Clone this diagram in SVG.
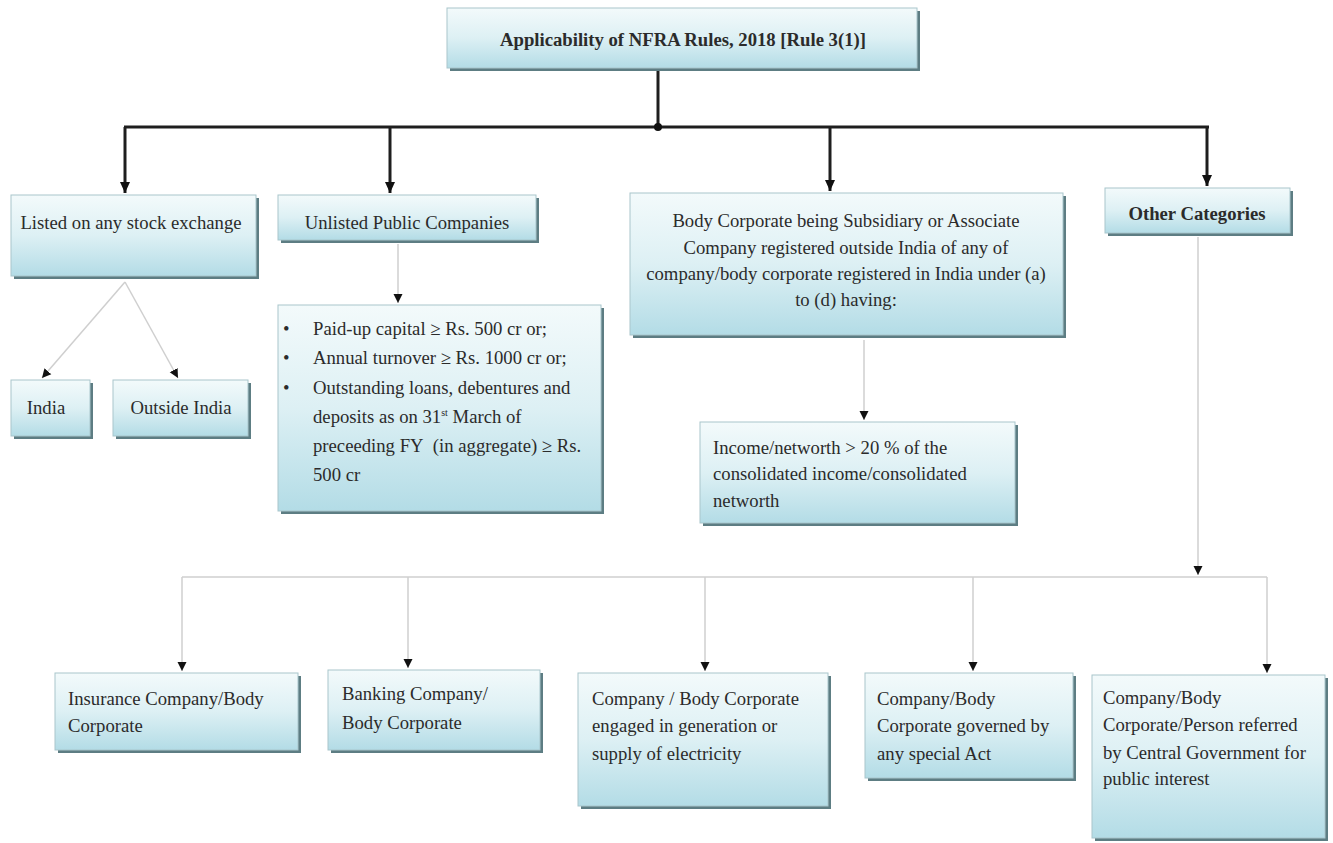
<svg xmlns="http://www.w3.org/2000/svg" width="1333" height="843" viewBox="0 0 1333 843">
<style>
.box{fill:url(#g);stroke:#a9c6cc;stroke-width:1}
.sh{fill:#5d7d83}
.t{font-family:"Liberation Serif","Times New Roman",serif;font-size:18.7px;fill:#2b2b2b}
.b{font-weight:bold}
.m{text-anchor:middle}
.thick{stroke:#1e1e1e;stroke-width:3;fill:none}
.thin{stroke:#cfcfcf;stroke-width:1.5;fill:none}
</style>
<defs>
<linearGradient id="g" x1="0" y1="0" x2="0" y2="1">
<stop offset="0" stop-color="#f3fafb"/>
<stop offset="0.5" stop-color="#ddf0f4"/>
<stop offset="1" stop-color="#b3dce6"/>
</linearGradient>
<marker id="as" markerUnits="userSpaceOnUse" markerWidth="10" markerHeight="10" refX="9" refY="5" orient="auto" viewBox="0 0 10 10">
<path d="M0,0.5 L9,5 L0,9.5 Z" fill="#111"/>
</marker>
<marker id="at" markerUnits="userSpaceOnUse" markerWidth="12" markerHeight="12" refX="11" refY="6" orient="auto" viewBox="0 0 12 12">
<path d="M0,1 L11,6 L0,11 Z" fill="#111"/>
</marker>
</defs>
<rect width="1333" height="843" fill="#ffffff"/>

<g id="connectors">
<path class="thick" d="M658,71 V127"/>
<path class="thick" d="M124,127 H1209"/>
<circle cx="658" cy="127" r="4" fill="#111"/>
<path class="thick" d="M125,127 V193" marker-end="url(#at)"/>
<path class="thick" d="M390,127 V193" marker-end="url(#at)"/>
<path class="thick" d="M830,127 V191" marker-end="url(#at)"/>
<path class="thick" d="M1207,127 V186" marker-end="url(#at)"/>
<path class="thin" d="M125,282 L42,378" marker-end="url(#as)"/>
<path class="thin" d="M125,282 L178,378" marker-end="url(#as)"/>
<path class="thin" d="M398,244 V303" marker-end="url(#as)"/>
<path class="thin" d="M864,340 V420" marker-end="url(#as)"/>
<path class="thin" d="M1198,237 V575" marker-end="url(#as)"/>
<path class="thin" d="M182,577 H1267"/>
<path class="thin" d="M182,577 V671" marker-end="url(#as)"/>
<path class="thin" d="M408,577 V668" marker-end="url(#as)"/>
<path class="thin" d="M705,577 V671" marker-end="url(#as)"/>
<path class="thin" d="M973,577 V671" marker-end="url(#as)"/>
<path class="thin" d="M1267,577 V673" marker-end="url(#as)"/>
</g>

<g id="root">
<rect class="sh" x="450" y="11" width="470" height="60"/>
<rect class="box" x="447" y="8" width="470" height="60"/>
<text class="t b m" x="683" y="46">Applicability of NFRA Rules, 2018 [Rule 3(1)]</text>
</g>

<g id="listed">
<rect class="sh" x="14" y="198" width="245" height="81"/>
<rect class="box" x="11" y="195" width="245" height="81"/>
<text class="t m" x="131" y="229">Listed on any stock exchange</text>
</g>

<g id="india">
<rect class="sh" x="14" y="383" width="79" height="56"/>
<rect class="box" x="11" y="380" width="79" height="56"/>
<text class="t m" x="46" y="414">India</text>
</g>

<g id="outside">
<rect class="sh" x="116" y="383" width="135" height="56"/>
<rect class="box" x="113" y="380" width="135" height="56"/>
<text class="t m" x="181" y="414">Outside India</text>
</g>

<g id="unlisted">
<rect class="sh" x="281" y="198" width="258" height="45"/>
<rect class="box" x="278" y="195" width="258" height="45"/>
<text class="t m" x="407" y="229">Unlisted Public Companies</text>
</g>

<g id="criteria">
<rect class="sh" x="281" y="308" width="323" height="206"/>
<rect class="box" x="278" y="305" width="323" height="206"/>
<text class="t" x="283" y="335">•</text>
<text class="t" x="283" y="364">•</text>
<text class="t" x="283" y="394">•</text>
<text class="t" x="313" y="335">Paid-up capital ≥ Rs. 500 cr or;</text>
<text class="t" x="313" y="364">Annual turnover ≥ Rs. 1000 cr or;</text>
<text class="t" x="313" y="394">Outstanding loans, debentures and</text>
<text class="t" x="313" y="423">deposits as on 31<tspan font-size="10" dy="-7">st</tspan><tspan dy="7"> March of</tspan></text>
<text class="t" x="313" y="452">preceeding FY&#160; (in aggregate) ≥ Rs.</text>
<text class="t" x="313" y="481">500 cr</text>
</g>

<g id="bodycorp">
<rect class="sh" x="633" y="196" width="433" height="142"/>
<rect class="box" x="630" y="193" width="433" height="142"/>
<text class="t m" x="846" y="227">Body Corporate being Subsidiary or Associate</text>
<text class="t m" x="846" y="254">Company registered outside India of any of</text>
<text class="t m" x="846" y="280">company/body corporate registered in India under (a)</text>
<text class="t m" x="846" y="306">to (d) having:</text>
</g>

<g id="income">
<rect class="sh" x="703" y="425" width="315" height="101"/>
<rect class="box" x="700" y="422" width="315" height="101"/>
<text class="t" x="713" y="454">Income/networth &gt; 20 % of the</text>
<text class="t" x="713" y="480">consolidated income/consolidated</text>
<text class="t" x="713" y="507">networth</text>
</g>

<g id="other">
<rect class="sh" x="1108" y="191" width="185" height="45"/>
<rect class="box" x="1105" y="188" width="185" height="45"/>
<text class="t b m" x="1197" y="220">Other Categories</text>
</g>

<g id="insurance">
<rect class="sh" x="58" y="676" width="243" height="77"/>
<rect class="box" x="55" y="673" width="243" height="77"/>
<text class="t" x="68" y="705">Insurance Company/Body</text>
<text class="t" x="68" y="732">Corporate</text>
</g>

<g id="banking">
<rect class="sh" x="331" y="673" width="212" height="80"/>
<rect class="box" x="328" y="670" width="212" height="80"/>
<text class="t" x="342" y="700">Banking Company/</text>
<text class="t" x="342" y="729">Body Corporate</text>
</g>

<g id="electricity">
<rect class="sh" x="581" y="676" width="250" height="133"/>
<rect class="box" x="578" y="673" width="250" height="133"/>
<text class="t" x="592" y="705">Company / Body Corporate</text>
<text class="t" x="592" y="732">engaged in generation or</text>
<text class="t" x="592" y="760">supply of electricity</text>
</g>

<g id="specialact">
<rect class="sh" x="868" y="676" width="208" height="105"/>
<rect class="box" x="865" y="673" width="208" height="105"/>
<text class="t" x="877" y="705">Company/Body</text>
<text class="t" x="877" y="732">Corporate governed by</text>
<text class="t" x="877" y="760">any special Act</text>
</g>

<g id="public">
<rect class="sh" x="1095" y="678" width="233" height="163"/>
<rect class="box" x="1092" y="675" width="233" height="163"/>
<text class="t" x="1103" y="704">Company/Body</text>
<text class="t" x="1103" y="731">Corporate/Person referred</text>
<text class="t" x="1103" y="759">by Central Government for</text>
<text class="t" x="1103" y="785">public interest</text>
</g>
</svg>
